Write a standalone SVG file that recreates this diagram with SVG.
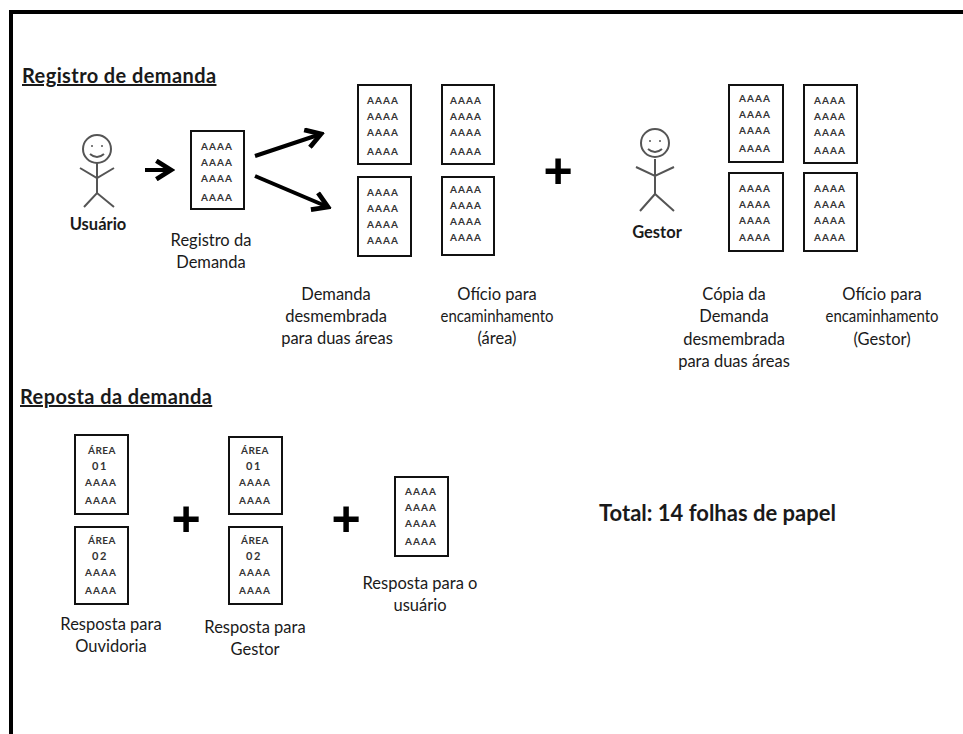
<svg xmlns="http://www.w3.org/2000/svg" width="963" height="734" viewBox="0 0 963 734">
<style>
text{font-family:"Lato","Liberation Sans",sans-serif;fill:#1a1a1a}
.d{fill:#fff;stroke:#111;stroke-width:2}
.a{font-size:10px;font-weight:700;text-anchor:middle;letter-spacing:1px;fill:#333}
.t{font-size:10px;font-weight:700;text-anchor:middle;letter-spacing:.5px;fill:#333}
.n{font-size:11px;font-weight:700;text-anchor:middle;letter-spacing:1.5px;fill:#333}
.l{font-size:16.5px;text-anchor:middle}
.e{font-size:16.5px;text-anchor:middle}
.b{font-size:16.5px;font-weight:700;text-anchor:middle}
.h{font-size:20px;font-weight:700;text-decoration:underline;letter-spacing:.4px}
.p{font-family:"Liberation Sans",sans-serif;font-size:50px;font-weight:700;text-anchor:middle;fill:#000}
.s{fill:none;stroke:#555;stroke-width:2}
.c{fill:none;stroke:#000;stroke-width:4}
</style>
<defs>
<marker id="ah" viewBox="0 0 12 12" refX="10" refY="6" markerWidth="5.5" markerHeight="5.5" orient="auto"><path d="M2 1L10 6L2 11" fill="none" stroke="#000" stroke-width="2.6"/></marker>
</defs>
<g id="frame"><path d="M11 734V12H963" fill="none" stroke="#000" stroke-width="4"/></g>
<g id="headings">
<text class="h" x="22" y="83">Registro de demanda</text>
<text class="h" x="20" y="404">Reposta da demanda</text>
</g>
<g id="connectors">
<path class="c" d="M145 170H171" marker-end="url(#ah)"/>
<path class="c" d="M255 156L321 134" marker-end="url(#ah)"/>
<path class="c" d="M255 176L328 207" marker-end="url(#ah)"/>
</g>
<g id="usuario">
<circle class="s" cx="97" cy="149" r="14"/>
<circle cx="92" cy="146" r="1" fill="#555"/><circle cx="102" cy="146" r="1" fill="#555"/>
<path class="s" d="M90 154Q97 160 104 154M97 163V193M80 168L97 178L114 168M84 207L97 193L114 207"/>
<text class="b" x="98" y="230">Usuário</text>
</g>
<g id="doc-registro">
<rect class="d" x="191" y="131" width="53" height="78"/>
<text class="a" x="217" y="150">AAAA</text><text class="a" x="217" y="166">AAAA</text><text class="a" x="217" y="182">AAAA</text><text class="a" x="217" y="201">AAAA</text>
<text class="l" x="211" y="246">Registro da</text><text class="l" x="211" y="268">Demanda</text>
</g>
<g id="doc-demanda-1">
<rect class="d" x="358" y="85" width="53" height="79"/>
<text class="a" x="383" y="104">AAAA</text><text class="a" x="383" y="120">AAAA</text><text class="a" x="383" y="136">AAAA</text><text class="a" x="383" y="155">AAAA</text>
</g>
<g id="doc-demanda-2">
<rect class="d" x="358" y="177" width="53" height="79"/>
<text class="a" x="383" y="196">AAAA</text><text class="a" x="383" y="212">AAAA</text><text class="a" x="383" y="228">AAAA</text><text class="a" x="383" y="244">AAAA</text>
</g>
<g id="doc-oficio-1">
<rect class="d" x="442" y="85" width="52" height="79"/>
<text class="a" x="466" y="104">AAAA</text><text class="a" x="466" y="120">AAAA</text><text class="a" x="466" y="136">AAAA</text><text class="a" x="466" y="155">AAAA</text>
</g>
<g id="doc-oficio-2">
<rect class="d" x="442" y="177" width="52" height="78"/>
<text class="a" x="466" y="193">AAAA</text><text class="a" x="466" y="209">AAAA</text><text class="a" x="466" y="225">AAAA</text><text class="a" x="466" y="241">AAAA</text>
</g>
<g id="label-demanda">
<text class="l" x="336" y="300">Demanda</text><text class="l" x="336" y="322">desmembrada</text><text class="l" x="337" y="344">para duas áreas</text>
</g>
<g id="label-oficio">
<text class="l" x="497" y="300">Ofício para</text><text class="l" x="497" y="322" textLength="113" lengthAdjust="spacingAndGlyphs">encaminhamento</text><text class="l" x="497" y="344">(área)</text>
</g>
<g id="plus-1"><text class="p" x="558" y="188">+</text></g>
<g id="gestor">
<circle class="s" cx="655" cy="143" r="14"/>
<circle cx="650" cy="141" r="1" fill="#555"/><circle cx="660" cy="141" r="1" fill="#555"/>
<path class="s" d="M648 149Q655 155 662 149M655 159V194M636 167L655 176L674 167M640 211L655 194L674 211"/>
<text class="b" x="657" y="238">Gestor</text>
</g>
<g id="doc-copia-1">
<rect class="d" x="729" y="85" width="54" height="77"/>
<text class="a" x="755" y="102">AAAA</text><text class="a" x="755" y="118">AAAA</text><text class="a" x="755" y="134">AAAA</text><text class="a" x="755" y="152">AAAA</text>
</g>
<g id="doc-copia-2">
<rect class="d" x="729" y="173" width="54" height="78"/>
<text class="a" x="755" y="192">AAAA</text><text class="a" x="755" y="208">AAAA</text><text class="a" x="755" y="224">AAAA</text><text class="a" x="755" y="241">AAAA</text>
</g>
<g id="doc-oficio-g1">
<rect class="d" x="804" y="85" width="53" height="78"/>
<text class="a" x="830" y="104">AAAA</text><text class="a" x="830" y="120">AAAA</text><text class="a" x="830" y="136">AAAA</text><text class="a" x="830" y="154">AAAA</text>
</g>
<g id="doc-oficio-g2">
<rect class="d" x="804" y="173" width="53" height="78"/>
<text class="a" x="830" y="192">AAAA</text><text class="a" x="830" y="208">AAAA</text><text class="a" x="830" y="224">AAAA</text><text class="a" x="830" y="241">AAAA</text>
</g>
<g id="label-copia">
<text class="l" x="734" y="300">Cópia da</text><text class="l" x="734" y="322">Demanda</text><text class="l" x="734" y="345">desmembrada</text><text class="l" x="734" y="367">para duas áreas</text>
</g>
<g id="label-oficio-g">
<text class="l" x="882" y="300">Ofício para</text><text class="l" x="882" y="322" textLength="113" lengthAdjust="spacingAndGlyphs">encaminhamento</text><text class="l" x="882" y="345">(Gestor)</text>
</g>
<g id="doc-r1">
<rect class="d" x="75" y="435" width="53" height="79"/>
<text class="t" x="102" y="454">ÁREA</text><text class="n" x="100" y="470">01</text><text class="a" x="101" y="486">AAAA</text><text class="a" x="101" y="504">AAAA</text>
</g>
<g id="doc-r2">
<rect class="d" x="75" y="527" width="53" height="77"/>
<text class="t" x="102" y="544">ÁREA</text><text class="n" x="100" y="560">02</text><text class="a" x="101" y="576">AAAA</text><text class="a" x="101" y="594">AAAA</text>
</g>
<g id="doc-r3">
<rect class="d" x="229" y="437" width="53" height="77"/>
<text class="t" x="255" y="454">ÁREA</text><text class="n" x="254" y="470">01</text><text class="a" x="255" y="486">AAAA</text><text class="a" x="255" y="504">AAAA</text>
</g>
<g id="doc-r4">
<rect class="d" x="229" y="527" width="53" height="77"/>
<text class="t" x="255" y="544">ÁREA</text><text class="n" x="254" y="560">02</text><text class="a" x="255" y="576">AAAA</text><text class="a" x="255" y="594">AAAA</text>
</g>
<g id="plus-2"><text class="p" x="186" y="536">+</text></g>
<g id="plus-3"><text class="p" x="346" y="536">+</text></g>
<g id="doc-r5">
<rect class="d" x="395" y="477" width="53" height="79"/>
<text class="a" x="421" y="495">AAAA</text><text class="a" x="421" y="511">AAAA</text><text class="a" x="421" y="527">AAAA</text><text class="a" x="421" y="545">AAAA</text>
</g>
<g id="labels-resposta">
<text class="l" x="111" y="630">Resposta para</text><text class="l" x="111" y="652">Ouvidoria</text>
<text class="l" x="255" y="633">Resposta para</text><text class="l" x="255" y="655">Gestor</text>
<text class="l" x="420" y="589">Resposta para o</text><text class="l" x="420" y="611">usuário</text>
</g>
<g id="total"><text x="599" y="521" style="font-size:22px;font-weight:700">Total: 14 folhas de papel</text></g>
</svg>
